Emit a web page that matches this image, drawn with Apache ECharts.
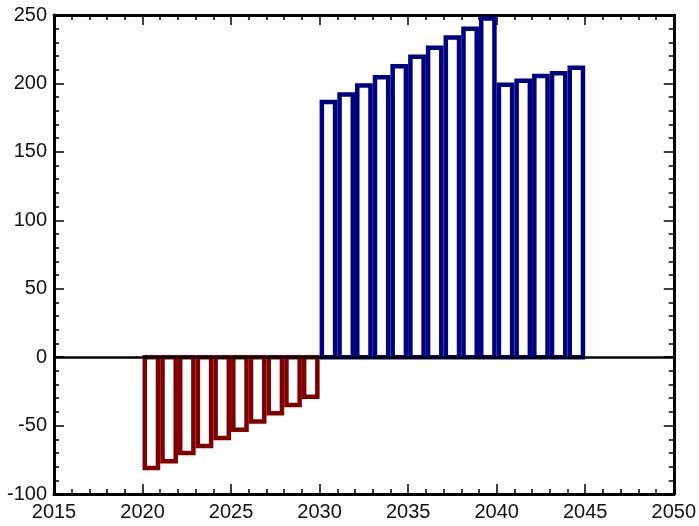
<!DOCTYPE html>
<html>
<head>
<meta charset="utf-8">
<style>
  html, body { margin: 0; padding: 0; background: #fff; }
  #chart { width: 699px; height: 526px; }
</style>
<script src="https://cdn.jsdelivr.net/npm/echarts@6/dist/echarts.min.js"></script>
</head>
<body>
<div id="chart"></div>
<script>
// Yearly values: outflows (2020-2029) and inflows (2030-2044)
const outYears = [2020, 2021, 2022, 2023, 2024, 2025, 2026, 2027, 2028, 2029];
const outValues = [-81, -76, -70, -65, -59, -53, -47, -41, -35, -29];

const inYears = [2030, 2031, 2032, 2033, 2034, 2035, 2036, 2037, 2038, 2039,
                 2040, 2041, 2042, 2043, 2044];
const inValues = [186.5, 192, 198.5, 204.5, 212.5, 219.5, 226, 233.5, 240, 247.5,
                  199, 202, 205.5, 207.5, 211.5];

const xRange = [2015, 2050];
const yRange = [-100, 250];

const FONT = '"Liberation Sans", Arial, sans-serif';
const BAR_LINE = 4.5;

// Each bar fills one full year [x, x+1] and is drawn as a hollow outlined box
function makeBarRenderer(color) {
  return function (params, api) {
    const x = api.value(0);
    const v = api.value(1);
    const a = api.coord([x, 0]);
    const b = api.coord([x + 1, v]);
    const left = a[0] + BAR_LINE / 2;
    const right = b[0] - BAR_LINE / 2;
    return {
      type: 'rect',
      shape: {
        x: left,
        y: Math.min(a[1], b[1]),
        width: right - left,
        height: Math.abs(b[1] - a[1])
      },
      style: { fill: '#ffffff', stroke: color, lineWidth: BAR_LINE }
    };
  };
}

function pairs(xs, ys) {
  return xs.map((x, i) => [x, ys[i]]);
}

const plain = v => String(v);
const axisLine = { show: true, onZero: false, lineStyle: { color: '#000', width: 3 } };
const tick = { show: true, inside: true, length: 10, lineStyle: { color: '#000', width: 1.5 } };
const minor = { show: true, splitNumber: 5, length: 5, lineStyle: { color: '#000', width: 1.5 } };

const chart = echarts.init(document.getElementById('chart'), null, { renderer: 'canvas' });

chart.setOption({
  animation: false,
  backgroundColor: '#ffffff',
  grid: { left: 54, right: 24, top: 15, bottom: 32, containLabel: false },
  xAxis: [
    {
      type: 'value', position: 'bottom',
      min: xRange[0], max: xRange[1], interval: 5,
      axisLine: axisLine, axisTick: tick, minorTick: minor,
      splitLine: { show: false },
      axisLabel: { color: '#111', fontFamily: FONT, fontSize: 20, margin: 8, formatter: plain }
    },
    {
      type: 'value', position: 'top',
      min: xRange[0], max: xRange[1], interval: 5,
      axisLine: axisLine, axisTick: tick, minorTick: minor,
      splitLine: { show: false },
      axisLabel: { show: false }
    }
  ],
  yAxis: [
    {
      type: 'value', position: 'left',
      min: yRange[0], max: yRange[1], interval: 50,
      axisLine: axisLine, axisTick: tick, minorTick: minor,
      splitLine: { show: false },
      axisLabel: { color: '#111', fontFamily: FONT, fontSize: 20, margin: 7, formatter: plain }
    },
    {
      type: 'value', position: 'right',
      min: yRange[0], max: yRange[1], interval: 50,
      axisLine: axisLine, axisTick: tick, minorTick: minor,
      splitLine: { show: false },
      axisLabel: { show: false }
    }
  ],
  series: [
    {
      type: 'custom',
      name: 'outflow',
      xAxisIndex: 0, yAxisIndex: 0,
      renderItem: makeBarRenderer('#800000'),
      encode: { x: 0, y: 1 },
      data: pairs(outYears, outValues),
      z: 2
    },
    {
      type: 'custom',
      name: 'inflow',
      xAxisIndex: 0, yAxisIndex: 0,
      renderItem: makeBarRenderer('#000080'),
      encode: { x: 0, y: 1 },
      data: pairs(inYears, inValues),
      z: 2,
      markLine: {
        silent: true,
        symbol: 'none',
        label: { show: false },
        lineStyle: { color: '#000', width: 2.5, type: 'solid' },
        data: [{ yAxis: 0 }],
        z: 5
      }
    }
  ]
});
</script>
</body>
</html>
